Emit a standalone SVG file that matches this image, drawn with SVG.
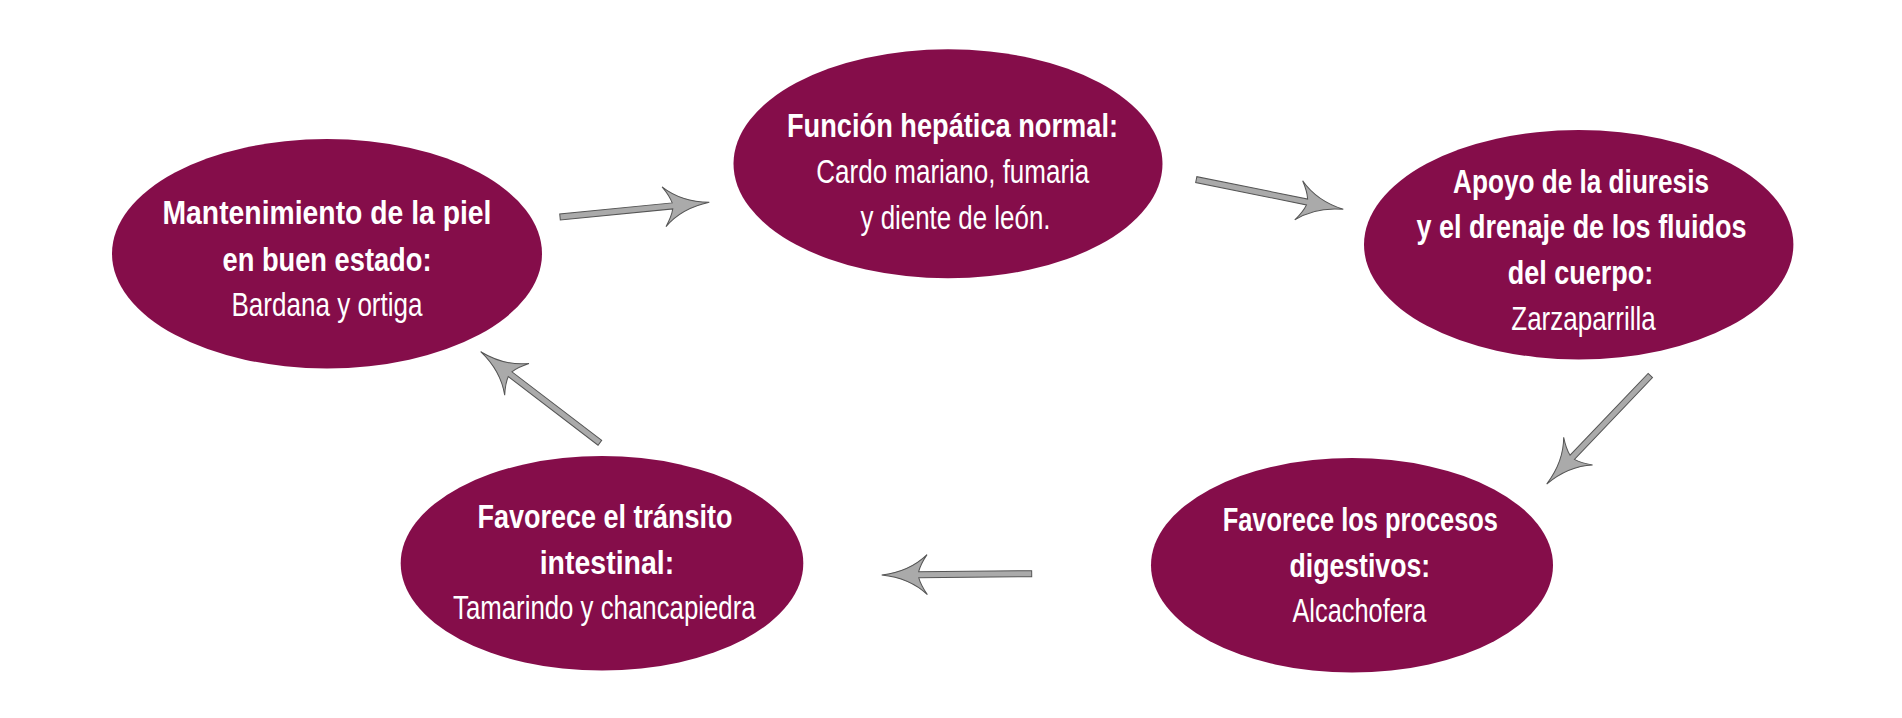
<svg xmlns="http://www.w3.org/2000/svg" xmlns:xlink="http://www.w3.org/1999/xlink" width="1902" height="718" viewBox="0 0 1902 718">
<style>
.node{fill:#850D4A;}
.t{fill:#ffffff;font-family:"Liberation Sans Narrow","Liberation Sans",Arial,sans-serif;font-size:34px;text-anchor:middle;}
.b{font-weight:bold;}
.arrow{fill:#aaaaaa;stroke:#555555;stroke-width:1;stroke-linejoin:miter;}
</style>
<defs>
<path id="arr" d="M0,0 C-18,-2 -34,-9 -45.5,-20 C-40,-12 -38,-7 -37,-3 L-150,-3 L-150,3 L-37,3 C-38,7 -40,12 -45.5,20 C-34,9 -18,2 0,0 Z"/>
</defs>
<rect width="1902" height="718" fill="#ffffff"/>
<g id="connectors">
<use xlink:href="#arr" class="arrow" transform="translate(709.3,202.3) rotate(-5.6)"/>
<use xlink:href="#arr" class="arrow" transform="translate(1343.3,209.3) rotate(11.4)"/>
<use xlink:href="#arr" class="arrow" transform="translate(1546.7,484) rotate(133.7)"/>
<use xlink:href="#arr" class="arrow" transform="translate(881.7,575) rotate(179.5)"/>
<use xlink:href="#arr" class="arrow" transform="translate(480.7,351.7) rotate(-142.6)"/>
</g>
<g id="node-piel">
<ellipse class="node" cx="327" cy="253.7" rx="215" ry="114.7"/>
<text class="t b" x="327" y="224" textLength="329" lengthAdjust="spacingAndGlyphs">Mantenimiento de la piel</text>
<text class="t b" x="327" y="270.7" textLength="209" lengthAdjust="spacingAndGlyphs">en buen estado:</text>
<text class="t" x="327" y="316" textLength="191" lengthAdjust="spacingAndGlyphs">Bardana y ortiga</text>
</g>
<g id="node-hepatica">
<ellipse class="node" cx="948" cy="163.8" rx="214.5" ry="114.5"/>
<text class="t b" x="952.5" y="136.7" textLength="331" lengthAdjust="spacingAndGlyphs">Función hepática normal:</text>
<text class="t" x="952.8" y="182.7" textLength="273" lengthAdjust="spacingAndGlyphs">Cardo mariano, fumaria</text>
<text class="t" x="955.5" y="228.7" textLength="190" lengthAdjust="spacingAndGlyphs">y diente de león.</text>
</g>
<g id="node-diuresis">
<ellipse class="node" cx="1578.7" cy="244.7" rx="214.7" ry="114.7"/>
<text class="t b" x="1581" y="192.7" textLength="256" lengthAdjust="spacingAndGlyphs">Apoyo de la diuresis</text>
<text class="t b" x="1581.6" y="238.3" textLength="330" lengthAdjust="spacingAndGlyphs">y el drenaje de los fluidos</text>
<text class="t b" x="1580.5" y="284" textLength="145.5" lengthAdjust="spacingAndGlyphs">del cuerpo:</text>
<text class="t" x="1583.5" y="330" textLength="144.4" lengthAdjust="spacingAndGlyphs">Zarzaparrilla</text>
</g>
<g id="node-digestivos">
<ellipse class="node" cx="1352" cy="565.3" rx="201" ry="107.3"/>
<text class="t b" x="1360.3" y="531" textLength="275.3" lengthAdjust="spacingAndGlyphs">Favorece los procesos</text>
<text class="t b" x="1359.8" y="576.7" textLength="140.7" lengthAdjust="spacingAndGlyphs">digestivos:</text>
<text class="t" x="1359.4" y="621.7" textLength="134" lengthAdjust="spacingAndGlyphs">Alcachofera</text>
</g>
<g id="node-intestinal">
<ellipse class="node" cx="602" cy="563.3" rx="201.3" ry="107.3"/>
<text class="t b" x="605" y="528.3" textLength="255" lengthAdjust="spacingAndGlyphs">Favorece el tránsito</text>
<text class="t b" x="607" y="574.3" textLength="134.6" lengthAdjust="spacingAndGlyphs">intestinal:</text>
<text class="t" x="604.3" y="619.3" textLength="302.6" lengthAdjust="spacingAndGlyphs">Tamarindo y chancapiedra</text>
</g>
</svg>
